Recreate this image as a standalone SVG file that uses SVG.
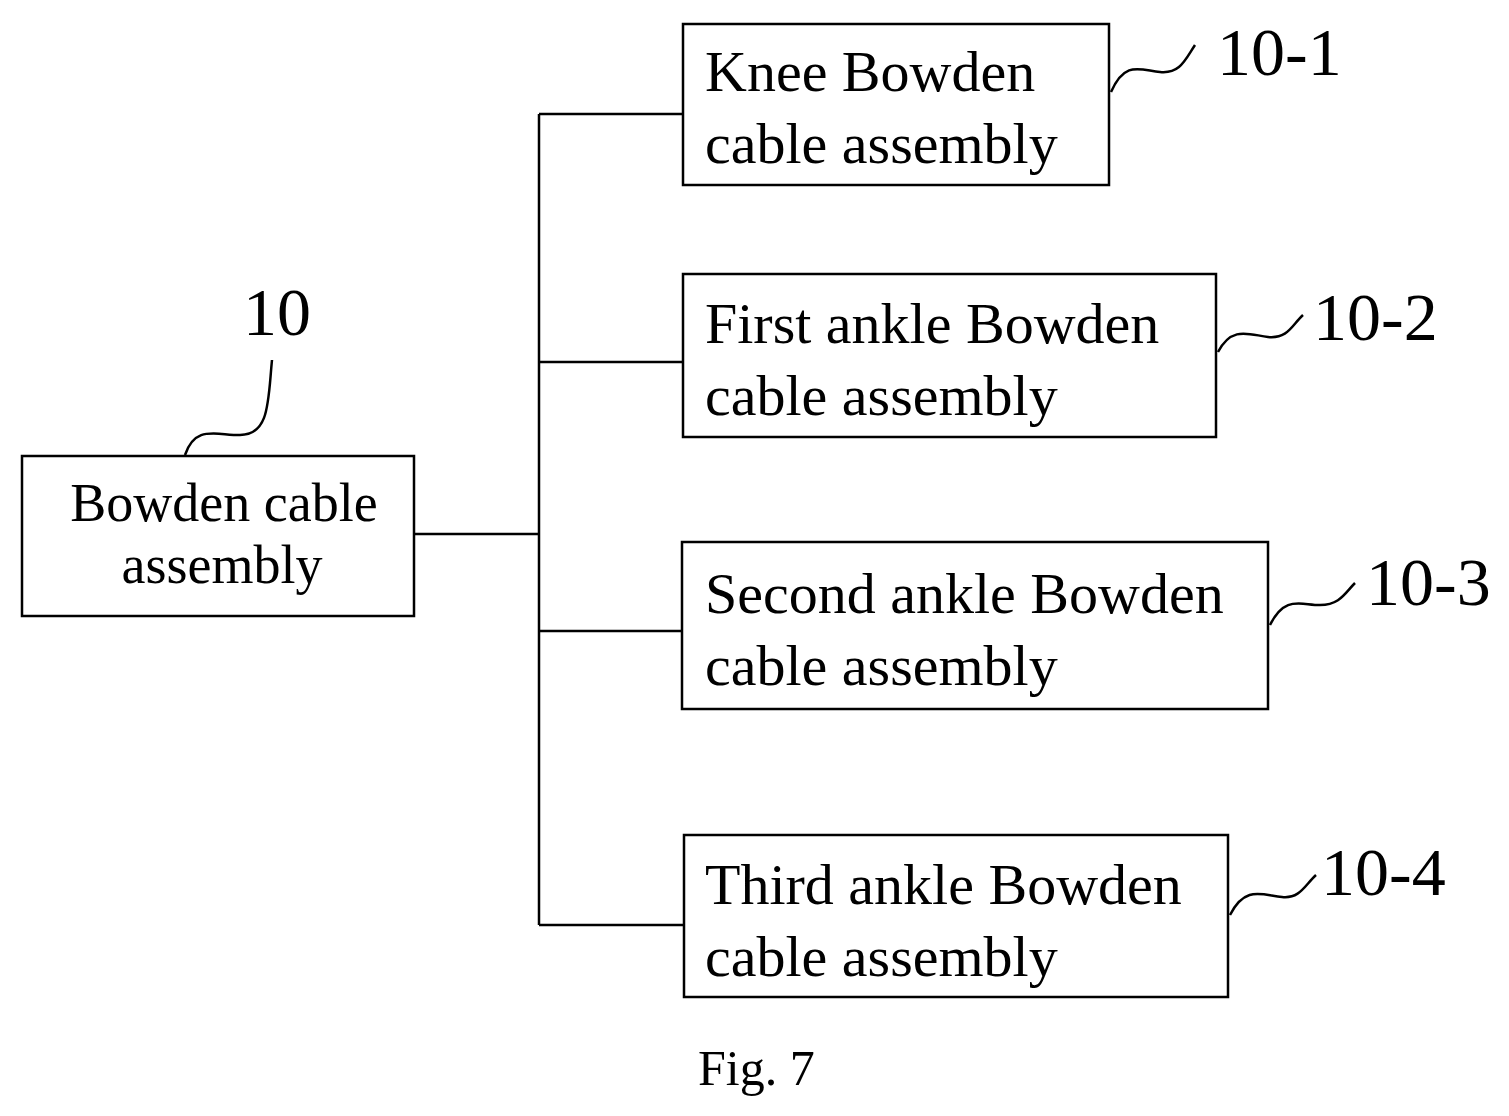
<svg xmlns="http://www.w3.org/2000/svg" width="1509" height="1116" viewBox="0 0 1509 1116">
<style>
.b{fill:#fff;stroke:#000;stroke-width:2.5}
.t{font-family:"Liberation Serif",serif;font-size:58px;fill:#000}
.n{font-family:"Liberation Serif",serif;font-size:68px;fill:#000}
.c{fill:none;stroke:#000;stroke-width:2.5}
</style>
<rect width="1509" height="1116" fill="#fff"/>
<g id="connectors">
<path class="c" d="M414 534H539M539 114V925M539 114H683M539 362H683M539 631H682M539 925H684"/>
<path class="c" d="M185 455C195 425 215 435 240 435C270 435 268 400 272 360"/>
<path class="c" d="M1111 92C1125 60 1140 70 1160 72C1180 74 1185 60 1195 45"/>
<path class="c" d="M1218 352C1232 325 1250 335 1268 337C1288 339 1292 325 1303 315"/>
<path class="c" d="M1270 625C1285 595 1300 605 1320 605C1340 605 1345 593 1355 583"/>
<path class="c" d="M1230 915C1245 885 1262 895 1282 897C1300 899 1305 885 1316 875"/>
</g>
<g id="n10"><rect class="b" x="22" y="456" width="392" height="160"/><text class="t" x="224" y="521" text-anchor="middle" style="font-size:54px">Bowden cable</text><text class="t" x="222" y="583" text-anchor="middle" style="font-size:54px">assembly</text></g>
<g id="n10-1"><rect class="b" x="683" y="24" width="426" height="161"/><text class="t" x="705" y="91">Knee Bowden</text><text class="t" x="705" y="163">cable assembly</text></g>
<g id="n10-2"><rect class="b" x="683" y="274" width="533" height="163"/><text class="t" x="705" y="343">First ankle Bowden</text><text class="t" x="705" y="415">cable assembly</text></g>
<g id="n10-3"><rect class="b" x="682" y="542" width="586" height="167"/><text class="t" x="705" y="613">Second ankle Bowden</text><text class="t" x="705" y="685">cable assembly</text></g>
<g id="n10-4"><rect class="b" x="684" y="835" width="544" height="162"/><text class="t" x="705" y="904">Third ankle Bowden</text><text class="t" x="705" y="976">cable assembly</text></g>
<g id="labels">
<text class="n" x="243" y="335">10</text>
<text class="n" x="1217" y="75">10-1</text>
<text class="n" x="1313" y="340">10-2</text>
<text class="n" x="1366" y="605">10-3</text>
<text class="n" x="1321" y="895">10-4</text>
<text class="t" x="698" y="1085" style="font-size:50px">Fig. 7</text>
</g>
</svg>
